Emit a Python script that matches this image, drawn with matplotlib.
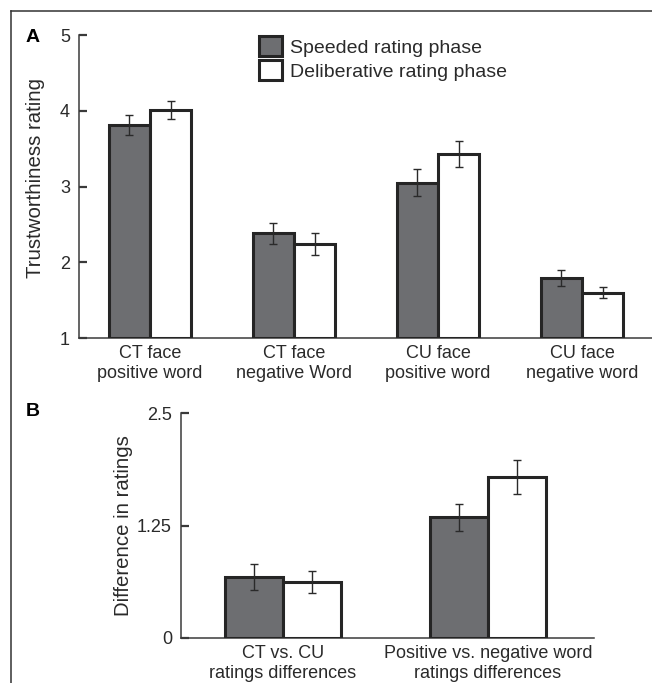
import matplotlib
matplotlib.use('Agg')
import matplotlib.pyplot as plt
import numpy as np
from matplotlib.lines import Line2D

plt.rcParams['font.family'] = ['Liberation Sans', 'DejaVu Sans']

# ---- data ----
phases = ['Speeded rating phase', 'Deliberative rating phase']

a_labels = ['CT face\npositive word', 'CT face\nnegative Word',
            'CU face\npositive word', 'CU face\nnegative word']
a_speeded = [3.81, 2.38, 3.05, 1.79]
a_speeded_err = [0.13, 0.14, 0.18, 0.11]
a_delib = [4.01, 2.24, 3.43, 1.60]
a_delib_err = [0.12, 0.15, 0.17, 0.07]
a_yticks = [1, 2, 3, 4, 5]

b_labels = ['CT vs. CU\nratings differences',
            'Positive vs. negative word\nratings differences']
b_speeded = [0.68, 1.34]
b_speeded_err = [0.145, 0.15]
b_delib = [0.62, 1.79]
b_delib_err = [0.12, 0.19]
b_yticks = [0, 1.25, 2.5]
b_yticklabels = ['0', '1.25', '2.5']

W, H = 652, 683
DARK = '#6d6e71'
EDGE = '#252525'
AX = '#3a3a3a'
TXT = '#2a2a2a'
FS = 13       # tick labels
FS_LEG = 14   # legend
FS_LAB = 14.7 # axis labels

fig = plt.figure(figsize=(W / 100, H / 100), dpi=100)


def px_axes(left, top, right, bottom):
    return fig.add_axes([left / W, 1 - bottom / H, (right - left) / W, (bottom - top) / H])


def style(ax):
    for s in ['top', 'right']:
        ax.spines[s].set_visible(False)
    for s in ['left', 'bottom']:
        ax.spines[s].set_color(AX)
        ax.spines[s].set_linewidth(1.1)
    ax.tick_params(axis='y', direction='in', length=6, width=1.6, color=AX,
                   pad=6.5, labelsize=FS, labelcolor=TXT)
    ax.tick_params(axis='x', length=0, pad=5, labelsize=FS, labelcolor=TXT)


def draw_bars(ax, s, s_err, d, d_err, base=0, w=0.285):
    x = np.arange(len(s))
    ax.bar(x - w / 2, np.array(s) - base, w, bottom=base, color=DARK, edgecolor=EDGE,
           linewidth=2.2, zorder=3, label=phases[0])
    ax.bar(x + w / 2, np.array(d) - base, w, bottom=base, color='white', edgecolor=EDGE,
           linewidth=2.2, zorder=3, label=phases[1])
    ekw = dict(fmt='none', ecolor=TXT, elinewidth=1.0, capsize=2.6,
               capthick=1.0, zorder=4)
    ax.errorbar(x - w / 2, s, yerr=s_err, **ekw)
    ax.errorbar(x + w / 2, d, yerr=d_err, **ekw)
    return x


# ===== Panel A =====
axA = px_axes(79, 35, 652, 338)
xa = draw_bars(axA, a_speeded, a_speeded_err, a_delib, a_delib_err, base=1)
axA.set_ylim(1, 5)
axA.set_xlim(-0.493, 3.486)
axA.set_yticks(a_yticks)
axA.set_xticks(xa)
axA.set_xticklabels(a_labels, linespacing=1.25)
style(axA)
axA.set_ylabel('Trustworthiness rating', fontsize=FS_LAB, color=TXT)
axA.yaxis.set_label_coords(-0.06, 0.528)
axA.legend(loc='upper left', bbox_to_anchor=(259 / W, 1 - 36 / H),
           bbox_transform=fig.transFigure, frameon=False, fontsize=FS_LEG,
           handlelength=1.2, handleheight=1.2, handletextpad=0.4,
           labelspacing=0.2, borderpad=0, borderaxespad=0,
           labelcolor=TXT)

# ===== Panel B =====
axB = px_axes(181, 413, 594, 638)
xb = draw_bars(axB, b_speeded, b_speeded_err, b_delib, b_delib_err)
axB.set_ylim(0, 2.5)
axB.set_xlim(-0.4976, 1.517)
axB.set_yticks(b_yticks)
axB.set_yticklabels(b_yticklabels)
axB.set_xticks(xb)
axB.set_xticklabels(b_labels, linespacing=1.25)
style(axB)
axB.set_ylabel('Difference in ratings', fontsize=FS_LAB, color=TXT)
axB.yaxis.set_label_coords(-0.117, 0.5)

# panel letters
fig.text(33 / W, 1 - 37 / H, 'A', fontsize=14, fontweight='bold', ha='center', va='center')
fig.text(33 / W, 1 - 412 / H, 'B', fontsize=14, fontweight='bold', ha='center', va='center')

# outer frame (only top and left edges are inside the picture)
fig.add_artist(Line2D([10.5 / W, 1], [1 - 11 / H, 1 - 11 / H], transform=fig.transFigure,
                      color='#333333', linewidth=1.1))
fig.add_artist(Line2D([10.5 / W, 10.5 / W], [0, 1 - 11 / H], transform=fig.transFigure,
                      color='#333333', linewidth=1.1))

fig.savefig('out.png', dpi=100)
